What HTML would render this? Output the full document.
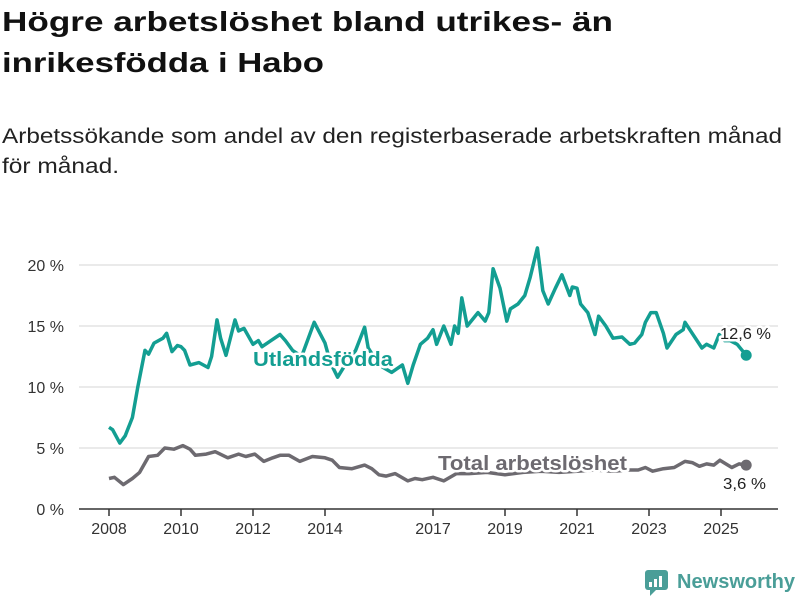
<!DOCTYPE html>
<html><head><meta charset="utf-8">
<style>
html,body{margin:0;padding:0;background:#fff;}
svg{display:block;font-family:"Liberation Sans",sans-serif;}
</style></head>
<body>
<svg id="chart" width="800" height="600" viewBox="0 0 800 600">
  <text x="2" y="31" font-size="28" font-weight="bold" fill="#111" textLength="611" lengthAdjust="spacingAndGlyphs">Högre arbetslöshet bland utrikes- än</text>
  <text x="2" y="72" font-size="28" font-weight="bold" fill="#111" textLength="322" lengthAdjust="spacingAndGlyphs">inrikesfödda i Habo</text>
  <text x="2" y="143" font-size="21" fill="#222" textLength="780" lengthAdjust="spacingAndGlyphs">Arbetssökande som andel av den registerbaserade arbetskraften månad</text>
  <text x="2" y="173" font-size="21" fill="#222" textLength="117" lengthAdjust="spacingAndGlyphs">för månad.</text>
  <g id="grid"></g>
  <g id="series"></g>
  <g id="labels"></g>
  <g>
    <rect x="645" y="570" width="23" height="20" rx="3" fill="#4a9e98"/>
    <polygon points="650,590 656,590 650,596" fill="#4a9e98"/>
    <rect x="649" y="582" width="3" height="5" fill="#fff"/>
    <rect x="654" y="579" width="3" height="8" fill="#fff"/>
    <rect x="659" y="576" width="3" height="11" fill="#fff"/>
    <text x="677" y="588" font-size="20" font-weight="bold" fill="#4a9e98" textLength="118" lengthAdjust="spacingAndGlyphs">Newsworthy</text>
  </g>
</svg>
<script>
const yTicks = [0, 5, 10, 15, 20];
const xTickYears = [2008, 2010, 2012, 2014, 2017, 2019, 2021, 2023, 2025];
const foreignTimes = [2008.0,2008.1,2008.3,2008.45,2008.65,2008.8,2009.0,2009.1,2009.25,2009.5,2009.6,2009.75,2009.9,2010.0,2010.1,2010.25,2010.5,2010.75,2010.85,2011.0,2011.1,2011.25,2011.5,2011.6,2011.75,2012.0,2012.15,2012.25,2012.5,2012.75,2012.9,2013.1,2013.35,2013.7,2014.0,2014.15,2014.35,2014.6,2014.85,2015.1,2015.2,2015.5,2015.85,2016.0,2016.15,2016.3,2016.45,2016.65,2016.85,2017.0,2017.1,2017.3,2017.5,2017.6,2017.7,2017.8,2017.95,2018.25,2018.45,2018.55,2018.67,2018.86,2019.05,2019.15,2019.36,2019.55,2019.7,2019.9,2020.05,2020.2,2020.4,2020.58,2020.8,2020.87,2021.0,2021.1,2021.3,2021.5,2021.6,2021.8,2022.0,2022.25,2022.47,2022.6,2022.8,2022.9,2023.05,2023.2,2023.4,2023.5,2023.75,2023.95,2024.0,2024.2,2024.47,2024.6,2024.8,2024.95,2025.1,2025.25,2025.45,2025.7];
const foreignValues = [6.7,6.5,5.4,6.0,7.5,10.0,13.0,12.7,13.6,14.0,14.4,12.9,13.4,13.3,13.0,11.8,12.0,11.6,12.5,15.5,14.0,12.6,15.5,14.6,14.8,13.5,13.8,13.3,13.8,14.3,13.8,13.0,12.5,15.3,13.6,12.0,10.8,12.0,13.0,14.9,13.2,11.8,11.2,11.5,11.8,10.3,11.8,13.5,14.0,14.7,13.5,15.0,13.5,15.0,14.4,17.3,15.0,16.1,15.4,16.1,19.7,18.1,15.4,16.4,16.8,17.5,19.0,21.4,17.9,16.8,18.1,19.2,17.5,18.2,18.1,16.8,16.1,14.3,15.8,15.0,14.0,14.1,13.5,13.6,14.3,15.3,16.1,16.1,14.4,13.2,14.3,14.7,15.3,14.4,13.2,13.5,13.2,14.3,13.8,13.8,13.5,12.6];
const totalTimes = [2008.0,2008.15,2008.4,2008.65,2008.85,2009.1,2009.35,2009.55,2009.8,2010.05,2010.25,2010.4,2010.7,2010.95,2011.3,2011.6,2011.8,2012.05,2012.3,2012.55,2012.75,2013.0,2013.3,2013.65,2014.0,2014.2,2014.4,2014.75,2015.1,2015.3,2015.5,2015.7,2015.95,2016.3,2016.5,2016.7,2017.0,2017.3,2017.65,2018.0,2018.5,2019.0,2019.5,2020.0,2020.5,2021.0,2021.5,2022.0,2022.45,2022.7,2022.9,2023.1,2023.4,2023.7,2024.0,2024.2,2024.4,2024.6,2024.8,2024.97,2025.3,2025.5,2025.7];
const totalValues = [2.5,2.6,2.0,2.5,3.0,4.3,4.4,5.0,4.9,5.2,4.9,4.4,4.5,4.7,4.2,4.5,4.3,4.5,3.9,4.2,4.4,4.4,3.9,4.3,4.2,4.0,3.4,3.3,3.6,3.3,2.8,2.7,2.9,2.3,2.5,2.4,2.6,2.3,2.9,2.9,3.0,2.8,3.0,3.1,3.0,3.1,3.2,3.1,3.2,3.2,3.4,3.1,3.3,3.4,3.9,3.8,3.5,3.7,3.6,4.0,3.4,3.7,3.6];

const NS = "http://www.w3.org/2000/svg";
const x = t => 109 + (t - 2008) * 36;
const y = v => 509 - v * 12.2;
function mk(tag, attrs, parent) {
  const e = document.createElementNS(NS, tag);
  for (const k in attrs) e.setAttribute(k, attrs[k]);
  parent.appendChild(e);
  return e;
}
const grid = document.getElementById('grid');
yTicks.forEach(v => {
  const l = mk('line', {x1: 79, x2: 778, y1: y(v), y2: y(v), stroke: v === 0 ? '#333' : '#ddd', 'stroke-width': v === 0 ? 1.5 : 1.2}, grid);
  
  
  const t = mk('text', {x: 64, y: y(v) + 6, 'text-anchor': 'end', 'font-size': 16, fill: '#333'}, grid);
  t.textContent = v + ' %';
  
  
});
xTickYears.forEach(yr => {
  const l = mk('line', {x1: x(yr), x2: x(yr), y1: 509, y2: 516, stroke: '#333', 'stroke-width': 1.5}, grid);
  
  
  const t = mk('text', {x: x(yr), y: 534, 'text-anchor': 'middle', 'font-size': 16, fill: '#333'}, grid);
  t.textContent = yr;
  
  
});
const series = document.getElementById('series');
function line(times, vals, color, name) {
  const d = times.map((t, i) => (i ? 'L' : 'M') + x(t).toFixed(1) + ',' + y(vals[i]).toFixed(1)).join('');
  const p = mk('path', {d: d, fill: 'none', stroke: color, 'stroke-width': 3.5, 'stroke-linejoin': 'round'}, series);
  
  
  const n = times.length - 1;
  const c = mk('circle', {cx: x(times[n]), cy: y(vals[n]), r: 5.5, fill: color}, series);
  
  
}
line(totalTimes, totalValues, '#6d6a70', 'total-line');
line(foreignTimes, foreignValues, '#139e92', 'foreign-born-line');
const labels = document.getElementById('labels');
function lab(txt, xx, yy, size, color, bold, name, len) {
  const t = mk('text', {x: xx, y: yy, 'font-size': size, fill: color, 'font-weight': bold ? 'bold' : 'normal', stroke: '#fff', 'stroke-width': 5, 'paint-order': 'stroke', 'stroke-linejoin': 'round', textLength: len, lengthAdjust: 'spacingAndGlyphs'}, labels);
  t.textContent = txt;
  
  
}
lab('Utlandsfödda', 253, 366, 20, '#139e92', true, 'foreign-born-label', 140);
lab('Total arbetslöshet', 438, 470, 20, '#6d6a70', true, 'total-label', 189);
lab('12,6 %', 720, 339, 16, '#222', false, 'foreign-born-value-label', 51);
lab('3,6 %', 723, 489, 16, '#222', false, 'total-value-label', 43);
</script>
</body></html>
